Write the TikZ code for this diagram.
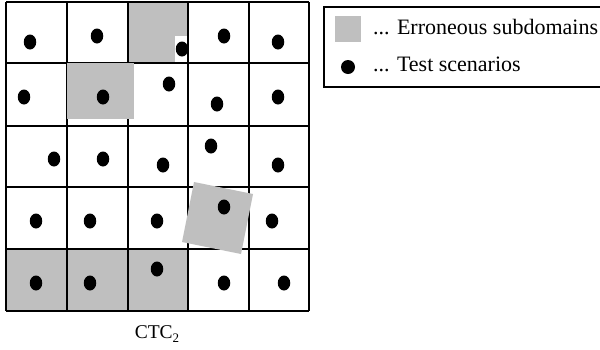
\documentclass[tikz,border=0pt]{standalone}
\usepackage{fontspec}
\setmainfont{Liberation Serif}
\usetikzlibrary{shapes.geometric}
\definecolor{errgray}{RGB}{191,191,191}
\begin{document}
\begin{tikzpicture}[x=1pt,y=-1pt,
  scen/.style={ellipse,fill=black,inner sep=0pt,minimum width=12.5pt,minimum height=15pt},
  gridline/.style={line width=1.4pt,black},
  errfill/.style={fill=errgray,draw=none}]
\useasboundingbox[fill=white] (0,0) rectangle (600,349);
% gray cells under grid
\fill[errgray] (6,249) rectangle (188,311);
\fill[errgray] (128,2) rectangle (188,63);
\fill[white] (175,36) rectangle (188,63);
% grid
\foreach \x in {6,67,128,188,249,309} \draw[gridline] (\x,2) -- (\x,311);
\foreach \y in {2,63,126,187,249,311} \draw[gridline] (6,\y) -- (309,\y);
% gray patches over grid
\fill[errgray] (67,63) rectangle (134,119);
\fill[errgray] (194,182) -- (253,194) -- (241,254) -- (182,242) -- cycle;
% test scenarios
\node[scen] (d11) at (30,42) {};
\node[scen] (d12) at (97,36) {};
\node[scen] (d13) at (182,49) {};
\node[scen] (d14) at (224,36) {};
\node[scen] (d15) at (278,42) {};
\node[scen] (d21) at (24,97) {};
\node[scen] (d22) at (103,97) {};
\node[scen] (d23) at (169,84) {};
\node[scen] (d24) at (217,104) {};
\node[scen] (d25) at (278,97) {};
\node[scen] (d31) at (54,159) {};
\node[scen] (d32) at (103,159) {};
\node[scen] (d33) at (163,165) {};
\node[scen] (d34) at (211,146) {};
\node[scen] (d35) at (278,165) {};
\node[scen] (d41) at (36,221) {};
\node[scen] (d42) at (90,221) {};
\node[scen] (d43) at (157,221) {};
\node[scen] (d44) at (224,207) {};
\node[scen] (d45) at (272,221) {};
\node[scen] (d51) at (36,283) {};
\node[scen] (d52) at (90,283) {};
\node[scen] (d53) at (157,269) {};
\node[scen] (d54) at (224,283) {};
\node[scen] (d55) at (284,283) {};
% caption
\node[anchor=base,inner sep=0pt,font=\fontsize{19.5}{20}\selectfont] (cap) at (157,338) {CTC{\fontsize{13}{13}\selectfont\raisebox{-4pt}{2}}};
% legend
\draw[line width=1.5pt] (324,7) rectangle (604,87);
\fill[errgray] (335,16) rectangle (361,42);
\node[ellipse,fill=black,inner sep=0pt,minimum width=14pt,minimum height=14pt] (ldot) at (348,67) {};
\node[anchor=base west,inner sep=0pt,font=\fontsize{22}{24}\selectfont] (lerr) at (373,34) {... Erroneous subdomains};
\node[anchor=base west,inner sep=0pt,font=\fontsize{22}{24}\selectfont] (ltest) at (373,71) {... Test scenarios};
\end{tikzpicture}
\end{document}
